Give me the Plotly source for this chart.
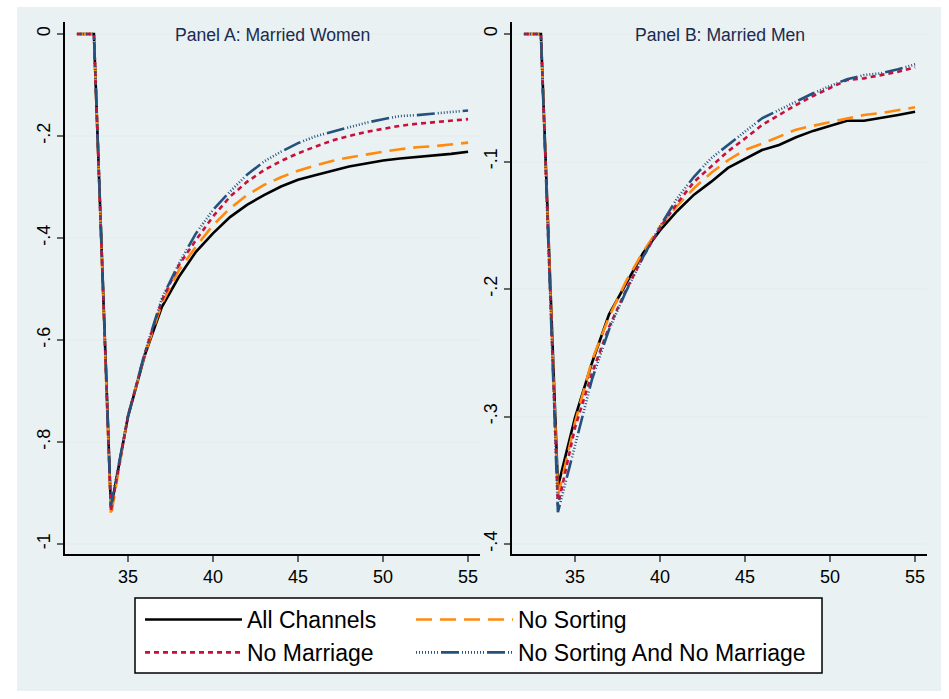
import plotly.graph_objects as go
from plotly.subplots import make_subplots

# Age (x axis)
age = list(range(32, 56))

# Panel A: married women
women_all = [0, 0, -0.930, -0.751, -0.629, -0.535, -0.476, -0.427, -0.391, -0.359, -0.335, -0.316,
             -0.299, -0.286, -0.277, -0.268, -0.260, -0.254, -0.248, -0.244, -0.241, -0.239, -0.235, -0.231]
women_nosort = [0, 0, -0.945, -0.748, -0.628, -0.528, -0.463, -0.417, -0.375, -0.342, -0.316, -0.296,
                -0.281, -0.268, -0.258, -0.249, -0.242, -0.236, -0.231, -0.226, -0.222, -0.220, -0.216, -0.213]
women_nomarr = [0, 0, -0.935, -0.750, -0.625, -0.522, -0.453, -0.404, -0.358, -0.319, -0.290, -0.267,
                -0.249, -0.234, -0.221, -0.209, -0.200, -0.192, -0.186, -0.180, -0.176, -0.173, -0.170, -0.167]
women_both = [0, 0, -0.925, -0.750, -0.624, -0.518, -0.450, -0.391, -0.345, -0.309, -0.276, -0.250,
              -0.231, -0.214, -0.201, -0.192, -0.182, -0.174, -0.167, -0.161, -0.159, -0.156, -0.153, -0.150]

# Panel B: married men
men_all = [0, 0, -0.355, -0.301, -0.258, -0.220, -0.196, -0.172, -0.154, -0.139, -0.126, -0.116,
           -0.105, -0.098, -0.091, -0.087, -0.081, -0.076, -0.072, -0.068, -0.068, -0.066, -0.0635, -0.061]
men_nosort = [0, 0, -0.363, -0.305, -0.256, -0.222, -0.194, -0.171, -0.151, -0.135, -0.121, -0.109,
              -0.099, -0.091, -0.086, -0.0805, -0.075, -0.072, -0.069, -0.066, -0.0635, -0.062, -0.0596, -0.0575]
men_nomarr = [0, 0, -0.370, -0.309, -0.266, -0.230, -0.201, -0.175, -0.152, -0.133, -0.116, -0.104,
              -0.092, -0.082, -0.0714, -0.0635, -0.0557, -0.0486, -0.0426, -0.0361, -0.0348, -0.0322, -0.0296, -0.0261]
men_both = [0, 0, -0.375, -0.322, -0.271, -0.232, -0.202, -0.175, -0.151, -0.129, -0.112, -0.0975,
            -0.087, -0.0766, -0.0661, -0.0596, -0.053, -0.0465, -0.0408, -0.0355, -0.0322, -0.0308, -0.0277, -0.0238]

series_names = ["All Channels", "No Sorting", "No Marriage", "No Sorting And No Marriage"]
panel_titles = ["Panel A: Married Women", "Panel B: Married Men"]

x_ticks = [35, 40, 45, 50, 55]
ya_ticks = [0, -0.2, -0.4, -0.6, -0.8, -1.0]
ya_text = ["0", "-.2", "-.4", "-.6", "-.8", "-1"]
yb_ticks = [0, -0.1, -0.2, -0.3, -0.4]
yb_text = ["0", "-.1", "-.2", "-.3", "-.4"]

styles = [
    dict(color="#000000", width=2.6, dash="solid"),
    dict(color="#ff8a0d", width=2.6, dash="16px,8px"),
    dict(color="#c8103e", width=2.6, dash="5px,4px"),
    dict(color="#24527e", width=2.6,
         dash="1px,2px,1px,2px,1px,2px,1px,2px,1px,2px,1px,2px,1px,2px,1px,3px,18px,3px"),
]
# two-column key: left column / right column
legend_ids = ["legend", "legend2", "legend", "legend2"]

BG = "#e9f1f2"
FONT = "Liberation Sans, Arial, Helvetica, sans-serif"
W, H = 949, 699

fig = make_subplots(rows=1, cols=2)

panels = [
    (women_all, women_nosort, women_nomarr, women_both),
    (men_all, men_nosort, men_nomarr, men_both),
]
for col, data in enumerate(panels, start=1):
    for name, ys, st, lg in zip(series_names, data, styles, legend_ids):
        fig.add_trace(
            go.Scatter(x=age, y=ys, mode="lines", name=name, line=st,
                       legend=lg, showlegend=(col == 1), hoverinfo="skip"),
            row=1, col=col,
        )

axis_common = dict(
    showline=True, linecolor="#000000", linewidth=1.5,
    ticks="outside", ticklen=6, tickwidth=1.5, tickcolor="#666666",
    tickfont=dict(family=FONT, size=18, color="#000000"),
    zeroline=False,
)

fig.update_xaxes(range=[31.3, 55.7], tickvals=x_ticks, showgrid=False, **axis_common)
fig.update_xaxes(domain=[65 / W, 480 / W], row=1, col=1)
fig.update_xaxes(domain=[512 / W, 927 / W], row=1, col=2)

y_dom = [145 / H, 677 / H]
fig.update_yaxes(
    domain=y_dom, range=[-1.0196, 0.0235], tickvals=ya_ticks, ticktext=ya_text,
    tickangle=-90, showgrid=True, gridcolor="#e6eef0", gridwidth=1.5,
    row=1, col=1, **axis_common
)
fig.update_yaxes(
    domain=y_dom, range=[-0.4078, 0.0094], tickvals=yb_ticks, ticktext=yb_text,
    tickangle=-90, showgrid=True, gridcolor="#e6eef0", gridwidth=1.5,
    row=1, col=2, **axis_common
)

for i, title in enumerate(panel_titles):
    ax = "" if i == 0 else str(i + 1)
    fig.add_annotation(
        text=title, xref=f"x{ax} domain", yref=f"y{ax} domain",
        x=0.5, y=1, yanchor="top", yshift=-1, showarrow=False,
        font=dict(family=FONT, size=17.6, color="#1c2a4e"),
    )

# outer shaded graph region
fig.add_shape(
    type="rect", xref="paper", yref="paper",
    x0=17 / W, x1=941 / W, y0=8 / H, y1=1 - 7 / H,
    fillcolor=BG, line=dict(width=0), layer="below",
)
# framed box around the two-column key
fig.add_shape(
    type="rect", xref="paper", yref="paper",
    x0=135 / W, x1=822 / W, y0=1 - 673 / H, y1=1 - 598 / H,
    fillcolor="#ffffff", line=dict(color="#000000", width=1.5), layer="below",
)

legend_common = dict(
    orientation="v", yanchor="top", xanchor="left", y=1 - 598 / H,
    bgcolor="rgba(0,0,0,0)", borderwidth=0,
    font=dict(family=FONT, size=23, color="#000000"),
    itemwidth=97, traceorder="normal", tracegroupgap=0,
)

fig.update_layout(
    width=W, height=H,
    margin=dict(l=0, r=0, t=0, b=0),
    paper_bgcolor="#ffffff", plot_bgcolor="#ffffff",
    font=dict(family=FONT, color="#000000"),
    legend=dict(x=140 / W, **legend_common),
    legend2=dict(x=411 / W, **legend_common),
)

fig.write_html("out.html")
